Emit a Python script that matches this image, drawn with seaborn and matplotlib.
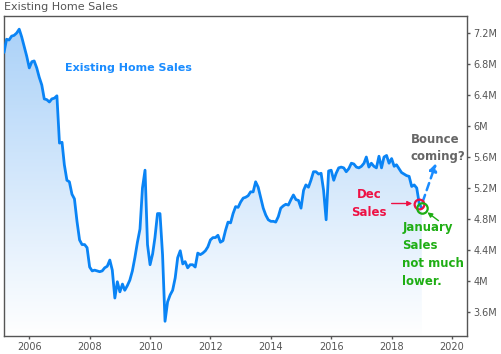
import numpy as np
import pandas as pd
import seaborn as sns
import matplotlib
matplotlib.use('Agg')
import matplotlib.pyplot as plt
import matplotlib.dates as mdates
from matplotlib.colors import LinearSegmentedColormap
from matplotlib.ticker import FuncFormatter

# Existing home sales, millions (SAAR), monthly from Mar 2005 to Jan 2019
start_month = '2005-03-01'
sales = [
    6.95, 7.12, 7.11, 7.16, 7.17, 7.20, 7.25, 7.15, 7.02, 6.90,                # 2005
    6.75, 6.83, 6.84, 6.75, 6.63, 6.53, 6.35, 6.34, 6.31, 6.35, 6.36, 6.39,    # 2006
    5.78, 5.79, 5.50, 5.30, 5.28, 5.12, 5.06, 4.77, 4.53, 4.47, 4.47, 4.43,    # 2007
    4.18, 4.13, 4.14, 4.13, 4.12, 4.13, 4.17, 4.19, 4.27, 4.14, 3.78, 3.99,    # 2008
    3.86, 3.96, 3.88, 3.94, 4.01, 4.13, 4.30, 4.50, 4.67, 5.20, 5.43, 4.47,    # 2009
    4.21, 4.35, 4.56, 4.87, 4.87, 4.34, 3.48, 3.73, 3.82, 3.88, 4.04, 4.30,    # 2010
    4.39, 4.22, 4.25, 4.17, 4.21, 4.21, 4.18, 4.36, 4.34, 4.36, 4.39, 4.44,    # 2011
    4.53, 4.56, 4.56, 4.59, 4.50, 4.52, 4.65, 4.76, 4.75, 4.87, 4.96, 4.95,    # 2012
    5.02, 5.07, 5.08, 5.10, 5.15, 5.15, 5.28, 5.21, 5.07, 4.94, 4.85, 4.79,    # 2013
    4.77, 4.77, 4.76, 4.83, 4.94, 4.97, 4.99, 4.98, 5.05, 5.11, 5.05, 5.04,    # 2014
    4.94, 5.17, 5.24, 5.21, 5.30, 5.41, 5.41, 5.38, 5.39, 5.17, 4.79, 5.42,    # 2015
    5.43, 5.30, 5.39, 5.46, 5.47, 5.46, 5.41, 5.45, 5.52, 5.51, 5.47, 5.46,    # 2016
    5.48, 5.52, 5.60, 5.47, 5.52, 5.48, 5.46, 5.61, 5.46, 5.60, 5.62, 5.52,    # 2017
    5.58, 5.48, 5.50, 5.45, 5.40, 5.38, 5.36, 5.35, 5.22, 5.24, 5.20, 5.00,    # 2018
    4.94,                                                                      # 2019
]
y_ticks = [3.6, 4.0, 4.4, 4.8, 5.2, 5.6, 6.0, 6.4, 6.8, 7.2]

dates = pd.date_range(start_month, periods=len(sales), freq='MS')
df = pd.DataFrame({'date': dates, 'sales': sales})

sns.set_style('white')
plt.rcParams['font.family'] = ['DejaVu Sans']

line_blue = '#0a84f5'
grey = '#555555'
ymin, ymax = 3.29, 7.42

fig = plt.figure(figsize=(5.02, 3.54), dpi=100)
ax = fig.add_axes([4 / 502, 18 / 354, 463 / 502, 320 / 354])

sns.lineplot(data=df, x='date', y='sales', color=line_blue, linewidth=2, ax=ax, zorder=3)

# gradient fill under the curve
x_num = mdates.date2num(df['date'])
fill = ax.fill_between(x_num, df['sales'], ymin, color='none', lw=0)
cmap = LinearSegmentedColormap.from_list('fade', ['#ffffff', '#a8d0f8'])
grad = np.linspace(0, 1, 256).reshape(-1, 1)
img = ax.imshow(grad, extent=[x_num[0], x_num[-1], ymin, ymax], origin='lower',
                aspect='auto', cmap=cmap, zorder=1)
img.set_clip_path(fill.get_paths()[0], transform=ax.transData)

ax.set_xlim(x_num[0], mdates.date2num(pd.Timestamp('2020-07-01')))
ax.set_ylim(ymin, ymax)

# axes styling
for sp in ax.spines.values():
    sp.set_visible(True)
    sp.set_color(grey)
    sp.set_linewidth(1)
ax.yaxis.tick_right()
ax.set_yticks(y_ticks)
ax.yaxis.set_major_formatter(FuncFormatter(lambda v, p: f'{v:g}M'))
ax.xaxis.set_major_locator(mdates.YearLocator(2))
ax.xaxis.set_major_formatter(mdates.DateFormatter('%Y'))
ax.tick_params(axis='both', colors=grey, labelsize=7, length=2.5, width=1,
               direction='out', pad=2)
ax.tick_params(axis='x', bottom=True, pad=1.5)
ax.tick_params(axis='y', right=True, left=False)
ax.set_xlabel('')
ax.set_ylabel('')

fig.text(4 / 502, 1 - 7 / 354, 'Existing Home Sales', fontsize=8, color=grey, va='center')
ax.text(0.132, 0.8375, 'Existing Home Sales', transform=ax.transAxes, color='#1a8cff',
        fontsize=8, fontweight='bold', ha='left', va='center')

# last two months
dec_date, dec_val = df['date'].iloc[-2], df['sales'].iloc[-2]
jan_date, jan_val = df['date'].iloc[-1], df['sales'].iloc[-1]
red = '#ee1144'
green = '#1fae14'

ax.plot(dec_date, dec_val, marker='o', ms=7, mfc='none', mec=red, mew=1.6, zorder=5)
ax.plot(jan_date, jan_val, marker='o', ms=7.5, mfc='none', mec=green, mew=1.6, zorder=5)

ax.annotate('Dec\nSales', xy=(dec_date, dec_val), xytext=(-36, 0), textcoords='offset points',
            ha='center', va='center', color=red, fontsize=8.5, fontweight='bold',
            linespacing=1.5,
            arrowprops=dict(arrowstyle='-|>', color=red, lw=1, shrinkA=1, shrinkB=5,
                            mutation_scale=7))

ax.annotate('January\nSales\nnot much\nlower.', xy=(jan_date, jan_val), xytext=(-14, -9),
            textcoords='offset points', ha='left', va='top', color=green, fontsize=8.5,
            fontweight='bold', linespacing=1.5)
ax.annotate('', xy=(jan_date, jan_val), xytext=(12, -9), textcoords='offset points',
            arrowprops=dict(arrowstyle='-|>', color=green, lw=1, shrinkA=0, shrinkB=5,
                            mutation_scale=7))

ax.annotate('', xy=(jan_date + pd.Timedelta(days=172), jan_val + 0.58),
            xytext=(jan_date + pd.Timedelta(days=10), jan_val + 0.08),
            arrowprops=dict(arrowstyle='-|>', color='#1a8cff', lw=1.8, linestyle=(0, (3, 2)),
                            shrinkA=0, shrinkB=0, mutation_scale=11))

ax.text(0.879, 0.5875, 'Bounce\ncoming?', transform=ax.transAxes, color='#666666',
        fontsize=8.5, fontweight='bold', ha='left', va='center', linespacing=1.4)

fig.savefig('out.png', dpi=100)
